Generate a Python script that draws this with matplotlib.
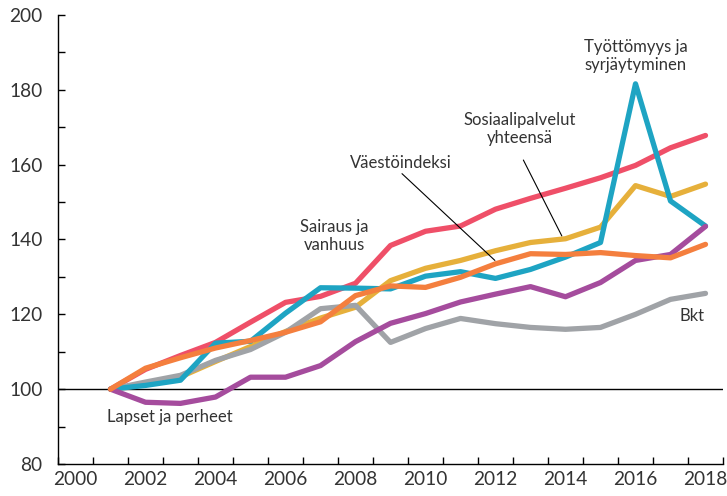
import numpy as np
import matplotlib.pyplot as plt
from matplotlib.ticker import MultipleLocator

plt.rcParams['font.family'] = ['Lato', 'DejaVu Sans']

years = np.arange(2001, 2019)

# index values, 2001 = 100
sairaus = [100, 105.3, 109.0, 112.5, 117.9, 123.2, 124.8, 128.3, 138.4, 142.2, 143.6, 148.1, 151.0, 153.7, 156.5, 159.8, 164.5, 167.8]
tyottomyys = [100, 101.0, 102.4, 112.3, 112.8, 120.3, 127.1, 127.0, 126.8, 130.2, 131.4, 129.6, 132.0, 135.3, 139.2, 181.6, 150.3, 143.6]
sosiaali = [100, 101.2, 103.3, 107.4, 111.4, 115.4, 119.0, 121.9, 129.0, 132.3, 134.4, 137.0, 139.2, 140.2, 143.3, 154.4, 151.5, 154.8]
vaesto = [100, 105.6, 108.4, 111.0, 113.0, 115.2, 118.0, 125.0, 127.6, 127.2, 129.9, 133.5, 136.2, 136.0, 136.5, 135.7, 135.1, 138.7]
lapset = [100, 96.5, 96.2, 97.9, 103.2, 103.2, 106.3, 112.7, 117.6, 120.2, 123.3, 125.4, 127.4, 124.7, 128.5, 134.4, 136.0, 143.5]
bkt = [100, 101.9, 103.7, 107.7, 110.6, 115.2, 121.5, 122.4, 112.5, 116.2, 118.9, 117.5, 116.5, 116.0, 116.5, 120.0, 124.0, 125.6]

txt = '#333333'

fig = plt.figure(figsize=(7.27, 4.96), dpi=100)
ax = fig.add_axes([0.0798, 0.0645, 0.9147, 0.9053])

lw = 3.8
ax.plot(years, sairaus, color='#ef4f68', lw=lw, solid_capstyle='round', zorder=3)
ax.plot(years, sosiaali, color='#e6b03b', lw=lw, solid_capstyle='round', zorder=4)
ax.plot(years, bkt, color='#a0a3a7', lw=lw, solid_capstyle='round', zorder=5)
ax.plot(years, tyottomyys, color='#1ea4c3', lw=lw, solid_capstyle='round', zorder=6)
ax.plot(years, lapset, color='#a54c9d', lw=lw, solid_capstyle='round', zorder=7)
ax.plot(years, vaesto, color='#f47f3e', lw=lw, solid_capstyle='round', zorder=8)

ax.axhline(100, color='black', lw=1.0, zorder=2)

ax.set_xlim(1999.5, 2018.5)
ax.set_ylim(80, 200)

# x ticks at year boundaries, labels centred on even years
ax.set_xticks(np.arange(1999.5, 2019, 1))
ax.set_xticklabels([])
ax.set_xticks(np.arange(2000, 2019, 2), minor=True)
ax.set_xticklabels([str(y) for y in range(2000, 2019, 2)], minor=True)
ax.tick_params(axis='x', which='major', direction='in', length=5, width=1, color='black')
ax.tick_params(axis='x', which='minor', length=0, labelsize=13.8, labelcolor=txt, pad=5)

ax.yaxis.set_major_locator(MultipleLocator(20))
ax.yaxis.set_minor_locator(MultipleLocator(10))
ax.tick_params(axis='y', which='both', direction='in', length=5, width=1, color='black')
ax.tick_params(axis='y', which='major', labelsize=13.8, labelcolor=txt, pad=11)

for s in ['top', 'right']:
    ax.spines[s].set_visible(False)
ax.spines['left'].set_linewidth(1.0)
ax.spines['bottom'].set_linewidth(1.0)

fs = 12
ax.text(2007.4, 141.0, 'Sairaus ja\nvanhuus', fontsize=fs, color=txt, ha='center', va='center', linespacing=1.15)
ax.text(2009.3, 160.5, 'Väestöindeksi', fontsize=fs, color=txt, ha='center', va='center')
ax.text(2012.7, 169.5, 'Sosiaalipalvelut\nyhteensä', fontsize=fs, color=txt, ha='center', va='center', linespacing=1.15)
ax.text(2016.0, 189.0, 'Työttömyys ja\nsyrjäytyminen', fontsize=fs, color=txt, ha='center', va='center', linespacing=1.15)
ax.text(2017.6, 119.5, 'Bkt', fontsize=fs, color=txt, ha='center', va='center')
ax.text(2002.7, 92.5, 'Lapset ja perheet', fontsize=fs, color=txt, ha='center', va='center')

# leader lines
ax.annotate('', xy=(2012.04, 133.9), xytext=(2009.27, 158.1),
            arrowprops=dict(arrowstyle='-', color='black', lw=0.8), zorder=9)
ax.annotate('', xy=(2013.93, 140.3), xytext=(2012.76, 161.9),
            arrowprops=dict(arrowstyle='-', color='black', lw=0.8), zorder=9)

fig.savefig('out.png', dpi=100)
